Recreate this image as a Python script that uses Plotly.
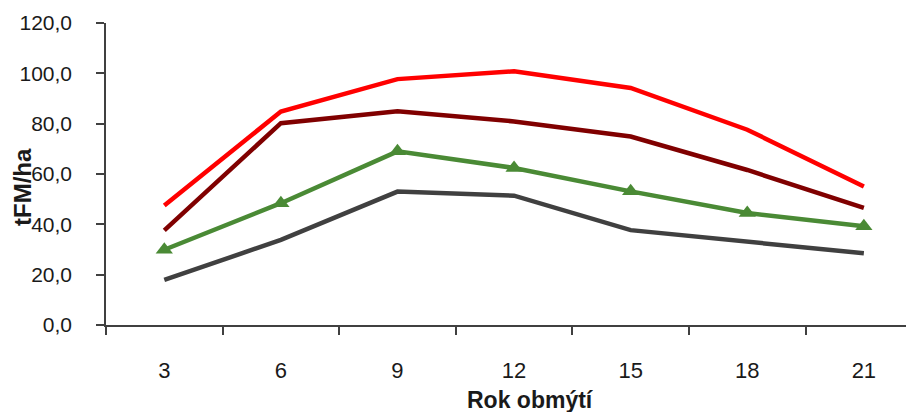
import plotly.graph_objects as go

categories = ["3", "6", "9", "12", "15", "18", "21"]
red_vals = [47.5, 84.8, 97.7, 100.8, 94.2, 77.6, 55.0]
darkred_vals = [37.6, 80.2, 84.9, 80.9, 74.9, 61.6, 46.5]
green_vals = [29.9, 48.4, 69.0, 62.4, 53.1, 44.5, 39.2]
gray_vals = [17.9, 33.8, 53.0, 51.4, 37.7, 33.1, 28.5]
y_ticks = [0, 20, 40, 60, 80, 100, 120]

# page has an 8px body margin; figure is sized so it fills the window exactly
OFF = 8
W, H = 914 - OFF, 412 - OFF
ML, MR, MT, MB = 106 - OFF, 0, 23 - OFF, 87

fig = go.Figure()
fig.add_trace(go.Scatter(x=categories, y=gray_vals, mode="lines",
                         line=dict(color="#404040", width=4.5), showlegend=False))
fig.add_trace(go.Scatter(x=categories, y=green_vals, mode="lines+markers",
                         line=dict(color="#4A8A35", width=4.5),
                         marker=dict(symbol="triangle-up", size=15, color="#4A8A35"),
                         showlegend=False))
fig.add_trace(go.Scatter(x=categories, y=darkred_vals, mode="lines",
                         line=dict(color="#800000", width=4.5), showlegend=False))
fig.add_trace(go.Scatter(x=categories, y=red_vals, mode="lines",
                         line=dict(color="#FF0000", width=4.5), showlegend=False))

font_family = "Liberation Sans, Arial, sans-serif"

fig.update_layout(
    width=W, height=H,
    margin=dict(l=ML, r=MR, t=MT, b=MB, pad=0, autoexpand=False),
    paper_bgcolor="white", plot_bgcolor="white",
    separators=", ",
    font=dict(family=font_family, color="#1a1a1a"),
    showlegend=False,
)
fig.update_xaxes(
    type="category", range=[-0.5, 6.43], tickson="boundaries",
    showline=True, linecolor="#404040", linewidth=1.5,
    ticks="outside", ticklen=8, tickcolor="#404040", tickwidth=1.5,
    tickfont=dict(size=22, family=font_family, color="#1a1a1a"),
    ticklabelstandoff=25, automargin=False,
    showgrid=False, zeroline=False, fixedrange=True,
)
fig.update_yaxes(
    range=[0, 120], tickvals=y_ticks, tickformat=".1f",
    showline=True, linecolor="#404040", linewidth=1.5,
    ticks="outside", ticklen=8, tickcolor="#404040", tickwidth=1.5,
    tickfont=dict(size=21, family=font_family, color="#1a1a1a"),
    ticklabelstandoff=20, automargin=False,
    showgrid=False, zeroline=False, fixedrange=True,
)

PW, PH = W - ML - MR, H - MT - MB
fig.add_annotation(text="<b>Rok obmýtí</b>", xref="paper", yref="paper",
                   x=(530 - OFF - ML) / PW, y=-(400 - OFF - (H - MB)) / PH,
                   xanchor="center", yanchor="middle", showarrow=False,
                   font=dict(size=23, family=font_family, color="#1a1a1a"))
fig.add_annotation(text="<b>tFM/ha</b>", xref="paper", yref="paper",
                   x=-(ML - (22 - OFF)) / PW, y=((H - MB) - (187 - OFF)) / PH,
                   xanchor="center", yanchor="middle", textangle=-90, showarrow=False,
                   font=dict(size=24, family=font_family, color="#1a1a1a"))

fig.write_html("out.html")
